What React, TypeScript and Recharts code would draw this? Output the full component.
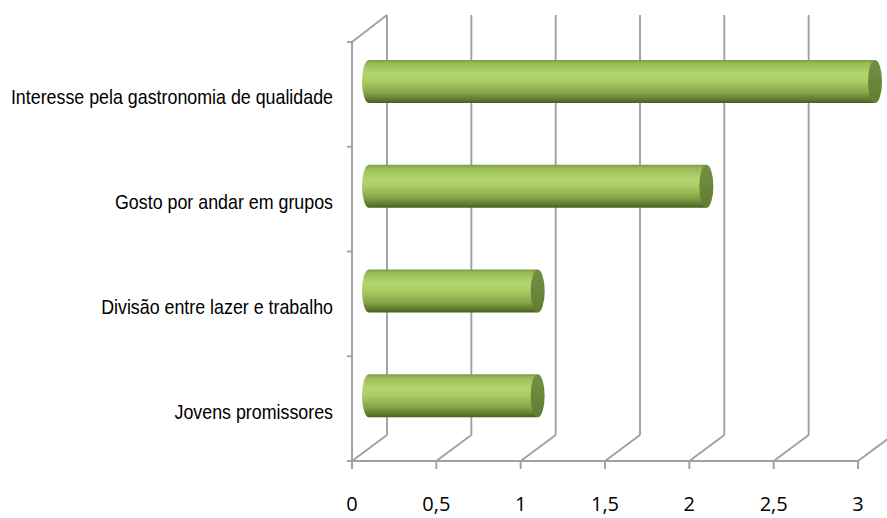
import React from 'react';
import { BarChart, Bar, XAxis, YAxis, CartesianGrid } from 'recharts';

const categories = [
  'Interesse pela gastronomia de qualidade',
  'Gosto por andar em grupos',
  'Divisão entre lazer e trabalho',
  'Jovens promissores',
];
const values = [3, 2, 1, 1];
const xTicks = [0, 0.5, 1, 1.5, 2, 2.5, 3];

const data = categories.map((name, i) => ({ name, value: values[i] }));

const W = 887;
const H = 518;
const TOP = 42;
const X_AXIS_H = 57;
const PLOT_H = H - TOP - X_AXIS_H;
const BAND = PLOT_H / categories.length;
const DX = 35; // depth offset of the back wall
const DY = 26;
const BX = 17; // bar depth offset (middle of the depth)
const BY = 13;
const GRID = '#a0a0a0';

const VerticalGrid = (props: any) => {
  const { x1, y1, y2 } = props;
  return (
    <g>
      <line x1={x1} y1={y2} x2={x1 + DX} y2={y2 - DY} stroke={GRID} strokeWidth={1.9} />
      <line x1={x1 + DX} y1={y1 - DY - 1} x2={x1 + DX} y2={y2 - DY} stroke={GRID} strokeWidth={1.9} />
    </g>
  );
};

const XTick = (props: any) => {
  const { x, y, payload } = props;
  const label = String(payload.value).replace('.', ',');
  return (
    <text
      x={x}
      y={y + 42}
      textAnchor="middle"
      fontFamily="'Open Sans', 'Noto Sans', sans-serif"
      fontSize={20}
      fill="#000"
    >
      {label}
    </text>
  );
};

const YTick = (props: any) => {
  const { x, y, payload, index } = props;
  const half = BAND / 2;
  return (
    <g>
      <line x1={x - 5} y1={y - half} x2={x} y2={y - half} stroke={GRID} strokeWidth={1.9} />
      {index === categories.length - 1 && (
        <line x1={x - 5} y1={y + half} x2={x} y2={y + half} stroke={GRID} strokeWidth={1.9} />
      )}
      {index === 0 && (
        <line x1={x} y1={y - half} x2={x + DX} y2={y - half - DY - 1} stroke={GRID} strokeWidth={1.9} />
      )}
      <text
        transform={`translate(${x - 19},${y + 10}) scale(0.915,1)`}
        textAnchor="end"
        fontFamily="'Liberation Sans', Arial, sans-serif"
        fontSize={19.5}
        fill="#000"
      >
        {payload.value}
      </text>
    </g>
  );
};

const Cylinder = (props: any) => {
  const { x, y, width, height } = props;
  if (width == null || height == null) return null;
  const x0 = x + BX;
  const x1 = x + width + BX;
  const top = y - BY;
  const ry = height / 2;
  const rx = 7;
  const d = `M ${x0} ${top} L ${x1} ${top} L ${x1} ${top + height} L ${x0} ${top + height} A ${rx} ${ry} 0 0 1 ${x0} ${top} Z`;
  return (
    <g>
      <path d={d} fill="url(#cylGrad)" />
      <ellipse cx={x1} cy={top + ry} rx={rx} ry={ry} fill="url(#faceGrad)" />
    </g>
  );
};

export default function App() {
  return (
    <div style={{ position: 'absolute', left: 0, top: 0, width: W, height: H, background: '#fff' }}>
      <BarChart
        width={W}
        height={H}
        data={data}
        layout="vertical"
        margin={{ top: TOP, right: 29, bottom: 0, left: 12 }}
        barSize={43}
      >
        <defs>
          <linearGradient id="cylGrad" x1="0" y1="0" x2="0" y2="1">
            <stop offset="0%" stopColor="#7e9b48" />
            <stop offset="8%" stopColor="#98bb58" />
            <stop offset="32%" stopColor="#b2d66d" />
            <stop offset="50%" stopColor="#a9cc64" />
            <stop offset="75%" stopColor="#87a84a" />
            <stop offset="92%" stopColor="#5d7c2f" />
            <stop offset="100%" stopColor="#465f22" />
          </linearGradient>
          <linearGradient id="faceGrad" x1="0" y1="0" x2="0" y2="1">
            <stop offset="0%" stopColor="#758f42" />
            <stop offset="100%" stopColor="#627d33" />
          </linearGradient>
        </defs>
        <CartesianGrid horizontal={false} vertical={VerticalGrid} syncWithTicks />
        <XAxis
          type="number"
          domain={[0, 3]}
          ticks={xTicks}
          height={X_AXIS_H}
          interval={0}
          axisLine={{ stroke: GRID, strokeWidth: 1.9 }}
          tickLine={{ stroke: GRID, strokeWidth: 1.9 }}
          tickSize={8}
          tickMargin={0}
          tick={<XTick />}
        />
        <YAxis
          type="category"
          dataKey="name"
          width={340}
          axisLine={{ stroke: GRID, strokeWidth: 1.9 }}
          tickLine={false}
          tickSize={0}
          tickMargin={0}
          interval={0}
          tick={<YTick />}
        />
        <Bar dataKey="value" shape={<Cylinder />} isAnimationActive={false} />
      </BarChart>
    </div>
  );
}
